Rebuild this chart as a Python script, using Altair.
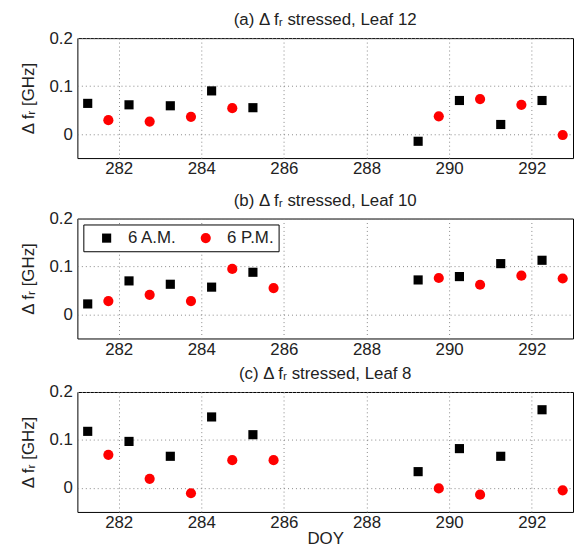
import altair as alt
import pandas as pd

FONT = "Liberation Sans"

am_doy = [281.25, 282.25, 283.25, 284.25, 285.25, 289.25, 290.25, 291.25, 292.25]

# Panel (a) Leaf 12
a_am = [0.064, 0.061, 0.059, 0.090, 0.055, -0.015, 0.070, 0.020, 0.070]
a_pm_doy = [281.75, 282.75, 283.75, 284.75, 289.75, 290.75, 291.75, 292.75]
a_pm = [0.029, 0.026, 0.036, 0.054, 0.037, 0.073, 0.061, -0.002]

# Panel (b) Leaf 10
b_am = [0.022, 0.070, 0.063, 0.057, 0.088, 0.072, 0.079, 0.106, 0.113]
b_pm_doy = [281.75, 282.75, 283.75, 284.75, 285.75, 289.75, 290.75, 291.75, 292.75]
b_pm = [0.028, 0.041, 0.028, 0.095, 0.055, 0.076, 0.062, 0.081, 0.075]

# Panel (c) Leaf 8
c_am = [0.118, 0.097, 0.066, 0.148, 0.111, 0.034, 0.082, 0.066, 0.163]
c_pm_doy = [281.75, 282.75, 283.75, 284.75, 285.75, 289.75, 290.75, 292.75]
c_pm = [0.069, 0.019, -0.011, 0.058, 0.058, -0.001, -0.014, -0.005]

titles = [
    "(a) \u0394 f\u1d63 stressed, Leaf 12",
    "(b) \u0394 f\u1d63 stressed, Leaf 10",
    "(c) \u0394 f\u1d63 stressed, Leaf 8",
]
series = ["6 A.M.", "6 P.M."]
x_ticks = [282, 284, 286, 288, 290, 292]
y_ticks = [0, 0.1, 0.2]


def frame(am, pm_doy, pm):
    rows = [{"doy": d, "val": v, "series": series[0]} for d, v in zip(am_doy, am)]
    rows += [{"doy": d, "val": v, "series": series[1]} for d, v in zip(pm_doy, pm)]
    return pd.DataFrame(rows)


def panel(df, title, legend, xtitle):
    return (
        alt.Chart(df, title=alt.TitleParams(title, fontSize=17, font=FONT, fontWeight="normal",
                                             color="#222", offset=0))
        .mark_point(filled=True, opacity=1)
        .encode(
            x=alt.X("doy:Q", scale=alt.Scale(domain=[281, 293], nice=False, zero=False),
                    axis=alt.Axis(values=x_ticks, title=xtitle, format="d")),
            y=alt.Y("val:Q", scale=alt.Scale(domain=[-0.05, 0.2], nice=False),
                    axis=alt.Axis(values=y_ticks, title="\u0394 f\u1d63 [GHz]",
                                  labelExpr="datum.value == 0 ? '0' : format(datum.value, '.1f')")),
            color=alt.Color("series:N", scale=alt.Scale(domain=series, range=["black", "#ff0000"]), legend=legend),
            shape=alt.Shape("series:N", scale=alt.Scale(domain=series, range=["square", "circle"]), legend=legend),
            size=alt.Size("series:N", scale=alt.Scale(domain=series, range=[85, 105]), legend=legend),
        )
        .properties(width=500, height=121)
    )


leg = alt.Legend(title=None, orient="none", legendX=6, legendY=6, direction="horizontal",
                 strokeColor="black", fillColor="white", padding=5, labelFontSize=17, labelFont=FONT,
                 labelColor="#222", columnPadding=10, labelOffset=13, symbolOffset=10)

pa = panel(frame(a_am, a_pm_doy, a_pm), titles[0], None, None)
pb = panel(frame(b_am, b_pm_doy, b_pm), titles[1], leg, None)
pc = panel(frame(c_am, c_pm_doy, c_pm), titles[2], None, "DOY")

top = alt.vconcat(pa, pb, spacing=61, bounds="flush").resolve_legend(
    color="independent", shape="independent", size="independent")

chart = (
    alt.vconcat(top, pc, spacing=6, bounds="full")
    .resolve_legend(color="independent", shape="independent", size="independent")
    .configure_view(stroke="black", strokeWidth=1)
    .configure_axis(
        labelFont=FONT, labelFontSize=17, labelColor="#222", titleFont=FONT, titleFontSize=17,
        titleFontWeight="normal", titleColor="#222", grid=True, gridColor="#888", gridDash=[1, 3],
        gridWidth=1, ticks=False, domain=False,
    )
    .configure_axisY(titlePadding=12, labelPadding=5)
    .configure_axisX(titlePadding=0, labelPadding=3)
    .properties(padding={"left": 10, "top": 0, "right": 0, "bottom": 0})
)

chart.save("out.html", embed_options={"renderer": "svg", "actions": False})
